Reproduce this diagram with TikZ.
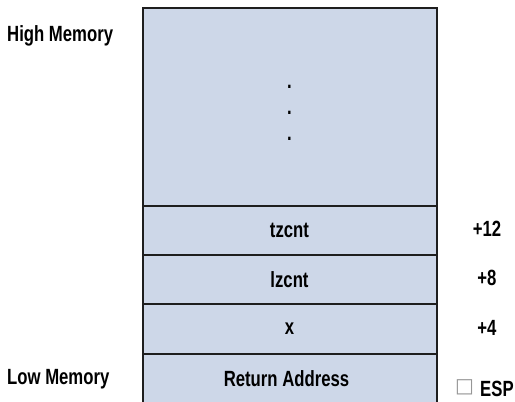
\documentclass[tikz,border=0pt]{standalone}
\usepackage{fontspec}
\setmainfont{Liberation Sans}[FakeStretch=0.76]
\newfontfamily\symfont{DejaVu Sans}
\definecolor{cellfill}{RGB}{205,215,232}
\definecolor{cellline}{RGB}{30,30,30}
\definecolor{boxgray}{RGB}{150,150,150}
\begin{document}
\begin{tikzpicture}[x=1pt,y=-1pt,
  cell/.style={draw=cellline,fill=cellfill,line width=2pt,minimum width=294pt,inner sep=0pt,
    font=\fontsize{22}{24}\selectfont\bfseries,text=black},
  lab/.style={font=\fontsize{22}{24}\selectfont\bfseries,text=black,inner sep=0pt},
  dotlab/.style={font=\fontsize{22}{24}\selectfont\bfseries,text=black,inner sep=0pt}]
\useasboundingbox (0,0) rectangle (515,402);
\begin{scope}
\clip (0,0) rectangle (515,402);
\node[cell,minimum height=197.7pt] (top) at (289.5,106.85) {};
\node[cell,minimum height=49.3pt] (tz) at (289.5,230.35) {tzcnt};
\node[cell,minimum height=49.3pt] (lz) at (289.5,279.65) {lzcnt};
\node[cell,minimum height=49.4pt] (xx) at (289.5,329.0) {x};
\node[cell,minimum height=50pt] (ra) at (289.5,378.7) {\hspace*{-6pt}Return Address};
\end{scope}
\node[dotlab,anchor=base] (d1) at (289.5,88) {.};
\node[dotlab,anchor=base] (d2) at (289.5,114) {.};
\node[dotlab,anchor=base] (d3) at (289.5,140) {.};
\node[lab,anchor=base west] (high) at (7,41.5) {High Memory};
\node[lab,anchor=base west] (low) at (7,384.5) {Low Memory};
\node[lab,anchor=base] (p12) at (487,236.5) {+12};
\node[lab,anchor=base] (p8) at (487,285.8) {+8};
\node[lab,anchor=base] (p4) at (487,335) {+4};
\node[lab,anchor=base west] (esp) at (480,396.7) {ESP};
\node[inner sep=0pt,anchor=base,text=boxgray,font=\symfont\fontsize{20}{22}\selectfont] (sq) at (464.5,392) {□};
\end{tikzpicture}
\end{document}
